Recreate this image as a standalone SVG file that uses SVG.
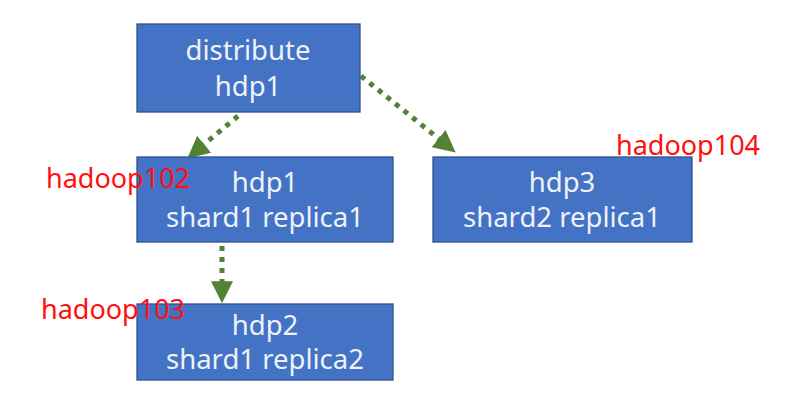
<svg xmlns="http://www.w3.org/2000/svg" width="799" height="412" viewBox="0 0 799 412">
<defs>
<style>
.box{fill:#4472C4;stroke:#2F528F;stroke-width:1.3}
.t{font-family:"Noto Sans","Liberation Sans",sans-serif;font-size:27.5px;fill:#EEF2FA;text-anchor:middle}
.lbl{font-family:"Noto Sans","Liberation Sans",sans-serif;font-size:27px;fill:#FF1010}
.con{fill:none;stroke:#548235;stroke-width:5;stroke-dasharray:5 6}
</style>
<marker id="ah" viewBox="0 0 10 10" refX="9" refY="5" markerWidth="4.4" markerHeight="4.4" orient="auto" markerUnits="strokeWidth">
<path d="M0,0 L10,5 L0,10 z" fill="#548235"/>
</marker>
</defs>
<rect width="799" height="412" fill="#FFFFFF"/>
<g id="connectors">
<line class="con" x1="238" y1="116" x2="189" y2="157" marker-end="url(#ah)"/>
<line class="con" x1="361" y1="76" x2="454" y2="151" marker-end="url(#ah)"/>
<line class="con" x1="222" y1="246" x2="222" y2="301" marker-end="url(#ah)"/>
</g>
<g id="distribute">
<rect class="box" x="137" y="24" width="223" height="88"/>
<text class="t" x="248" y="60">distribute</text>
<text class="t" x="248" y="96">hdp1</text>
</g>
<g id="hdp1">
<rect class="box" x="137" y="157" width="256" height="85"/>
<text class="t" x="265" y="192">hdp1</text>
<text class="t" x="265" y="227">shard1 replica1</text>
</g>
<g id="hdp3">
<rect class="box" x="433" y="157" width="259" height="85"/>
<text class="t" x="562" y="192">hdp3</text>
<text class="t" x="562" y="227">shard2 replica1</text>
</g>
<g id="hdp2">
<rect class="box" x="137" y="304" width="256" height="76"/>
<text class="t" x="265" y="335">hdp2</text>
<text class="t" x="265" y="369">shard1 replica2</text>
</g>
<g id="labels">
<text class="lbl" x="46" y="188">hadoop102</text>
<text class="lbl" x="616" y="155">hadoop104</text>
<text class="lbl" x="41" y="319">hadoop103</text>
</g>
</svg>
